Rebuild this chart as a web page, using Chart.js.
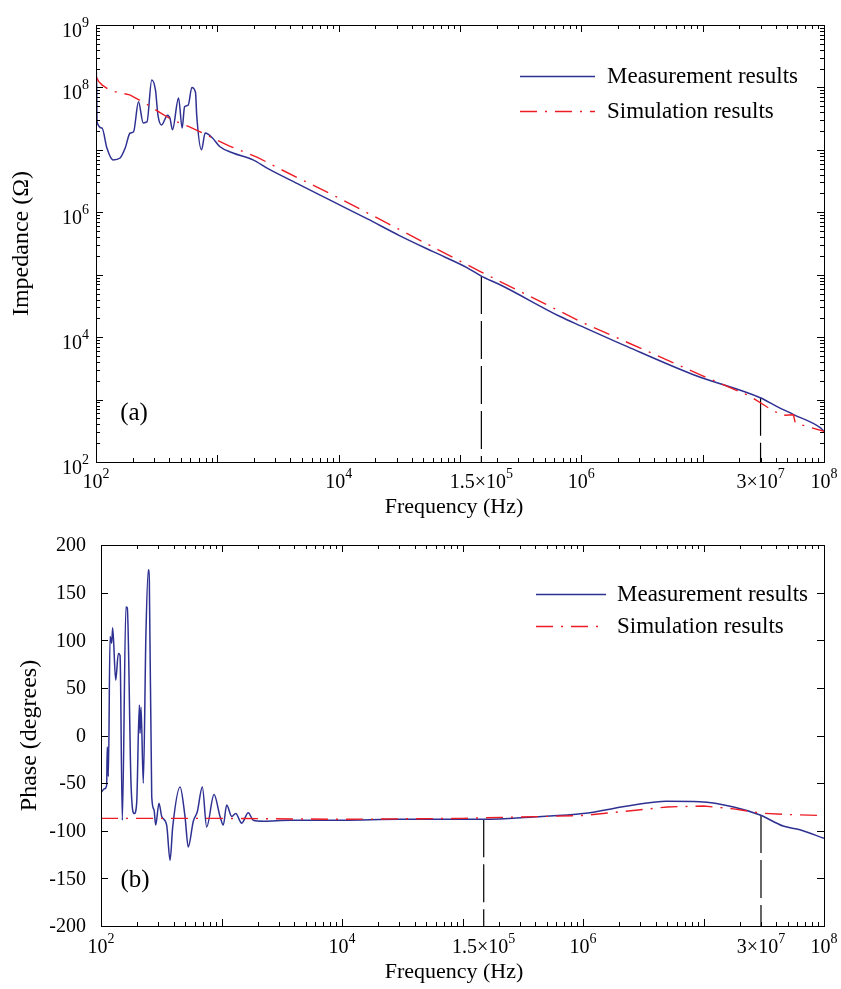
<!DOCTYPE html>
<html lang="en">
<head>
<meta charset="UTF-8" />
<title>Impedance and Phase</title>
<script src="https://cdn.jsdelivr.net/npm/chart.js@4.4.0/dist/chart.umd.min.js"></script>
<style>
  body { margin: 0; background: #fff; }
  canvas { display: block; }
</style>
</head>
<body>
<canvas id="impChart" width="841" height="520"></canvas>
<canvas id="phaseChart" width="841" height="469"></canvas>
<script>
// (a) impedance magnitude
const impMeasFreq = [100, 101, 102, 112, 123, 138, 158, 174, 191, 204, 224, 245, 263, 288, 309, 324, 347, 389, 407, 427,
  479, 513, 537, 575, 617, 661, 676, 741, 794, 912, 1052, 1346, 1968, 2570, 4786, 9000, 1.71e4, 3.2e4, 6.0e4,
  1.15e5, 1.5e5, 2.14e5, 6.68e5, 1e6, 2.37e6, 8.4e6, 2.98e7, 4.07e7, 5.62e7, 9.3e7, 1e8];
const impMeasVal = [1.12e8, 1.78e8, 2.8e7, 2.24e7, 1.07e7, 6.9e6, 7.4e6, 1.07e7, 1.86e7, 1.95e7, 5.9e7, 2.7e7, 2.8e7, 1.32e8, 9.1e7, 3.6e7, 2.5e7, 3.6e7, 3.2e7, 2.1e7,
  6.8e7, 2.24e7, 4.9e7, 5.2e7, 1.0e8, 8.3e7, 3.6e7, 1.0e7, 1.86e7, 1.55e7, 1.12e7, 8.9e6, 6.9e6, 5.1e6, 2.75e6, 1.48e6, 7.9e5, 4.2e5, 2.34e5,
  1.29e5, 9.5e4, 6.9e4, 2.14e4, 1.5e4, 7.1e3, 2.5e3, 1.07e3, 7.8e2, 5.75e2, 3.55e2, 3.1e2];

const impSimFreq = [100, 105, 112, 130, 145, 190, 270, 340, 427, 590, 810, 1260, 2140, 3310, 1e4, 1e5, 1.5e5, 1e6, 1e7,
  2.3e7, 2.6e7, 3.4e7, 4.5e7, 5.6e7, 5.8e7, 1e8];
const impSimVal = [1.5e8, 1.25e8, 1.1e8, 9e7, 8.5e7, 7.6e7, 5.2e7, 3.9e7, 3.0e7, 2.34e7, 1.74e7, 1.15e7, 7.6e6, 4.9e6, 1.7e6, 1.65e5, 1.1e5, 1.75e4, 2.4e3,
  1.2e3, 1.05e3, 7.6e2, 5.6e2, 5.7e2, 4.2e2, 3.1e2];

// (b) phase
const phMeasFreq = [100, 107, 111.4, 112.7, 115.1, 118.9, 122.7, 125, 132.4, 139.3, 143.9, 150.3, 161, 165.2, 177.4, 188.8, 197.7,
  208, 210.9, 214.8, 224.4, 236, 247.2, 251.8, 263.6, 275.4, 284.4, 302.7, 319.2, 350.7, 374.1, 393.6, 452.9, 497.7, 529.7,
  583.4, 629.5, 693.4, 753.4, 867, 972.7, 1035, 1104, 1216, 1312, 1472, 1667, 1837, 2223, 3698, 1e4, 3e4, 1.5e5, 3.85e5,
  1e6, 2.63e6, 4.9e6, 9.3e6, 1.78e7, 2.95e7, 4.57e7, 6.31e7, 1e8];
const phMeasVal = [-60, -56, -52, -12, -43, 104, 97, 113, 58, 86, 84, -89, 135, 134, -50, -82, -71,
  32, 2, 30, -50, 107, 174, 163, -64, -78, -94, -71, -85, -94, -131, -96, -54, -85, -117,
  -90, -80, -54, -96, -62, -85, -94, -73, -85, -82, -92, -81, -89, -90, -89, -89, -88, -88, -85.5,
  -82, -73, -69, -69.5, -75, -83.5, -95, -99, -108];

const phSimFreq = [100, 1e3, 1e4, 1e5, 1e6, 3e6, 5e6, 1e7, 1.78e7, 3e7, 5e7, 1e8];
const phSimVal = [-87, -87, -88, -87, -84, -78, -75, -74, -77, -81.5, -83, -84];

// dashed marker lines
const markerFreqs = [1.5e5, 3e7];
const impMarkerTop = [9.5e4, 1.07e3];
const phMarkerTop = [-88, -83.5];

const xTickLabels = [[1e2, '10', '2'], [1e4, '10', '4'], [1.5e5, '1.5×10', '5'], [1e6, '10', '6'], [3e7, '3×10', '7'], [1e8, '10', '8']];
const impTickLabels = [[1e9, '10', '9'], [1e8, '10', '8'], [1e6, '10', '6'], [1e4, '10', '4'], [1e2, '10', '2']];
const phaseTicks = [200, 150, 100, 50, 0, -50, -100, -150, -200];
const legendNames = ['Measurement results', 'Simulation results'];

const FONT = '"Liberation Serif", "Times New Roman", serif';
const BLUE = '#2e3192';
const RED = '#ed1c24';

function series(fr, vals) { return fr.map((f, i) => ({ x: f, y: vals[i] })); }

function lineSet(data, color, dash, width, order) {
  return { data, borderColor: color, borderWidth: width, borderDash: dash, pointRadius: 0, tension: 0, fill: false, order };
}

function measSet(data) {
  return Object.assign(lineSet(data, BLUE, [], 1.5, 2), { cubicInterpolationMode: 'monotone' });
}

function markerSets(tops, bottom) {
  return markerFreqs.map((f, i) => lineSet([{ x: f, y: tops[i] }, { x: f, y: bottom }], '#000', [38, 7], 1.2, 3));
}

function logTicks(min, max) {
  const out = [];
  for (let d = Math.round(Math.log10(min)); d < Math.round(Math.log10(max)); d++)
    for (let m = 1; m < 10; m++) out.push([m * Math.pow(10, d), m === 1]);
  out.push([max, true]);
  return out;
}

function pow10(ctx, base, exp, x, y, align) {
  ctx.font = '20px ' + FONT;
  const bw = ctx.measureText(base).width;
  ctx.font = '14px ' + FONT;
  const ew = ctx.measureText(exp).width;
  const left = align === 'center' ? x - (bw + ew) / 2 : x - bw - ew;
  ctx.textAlign = 'left';
  ctx.textBaseline = 'alphabetic';
  ctx.font = '20px ' + FONT;
  ctx.fillText(base, left, y);
  ctx.font = '14px ' + FONT;
  ctx.fillText(exp, left + bw, y - 10);
}

const frame = {
  id: 'frame',
  afterDatasetsDraw(chart, args, o) {
    const { ctx, chartArea: a, scales: { x, y } } = chart;
    ctx.save();
    ctx.strokeStyle = '#000';
    ctx.lineWidth = 1;
    ctx.setLineDash([]);
    ctx.strokeRect(a.left + 0.5, a.top + 0.5, a.right - a.left, a.bottom - a.top);

    // inward ticks
    ctx.beginPath();
    logTicks(x.min, x.max).forEach(([v, major]) => {
      const px = Math.round(x.getPixelForValue(v)) + 0.5;
      const len = major ? 7 : 4;
      ctx.moveTo(px, a.bottom); ctx.lineTo(px, a.bottom - len);
      ctx.moveTo(px, a.top); ctx.lineTo(px, a.top + len);
    });
    const yt = y.type === 'logarithmic' ? logTicks(y.min, y.max) : phaseTicks.map(v => [v, true]);
    yt.forEach(([v, major]) => {
      const py = Math.round(y.getPixelForValue(v)) + 0.5;
      const len = major ? 7 : 4;
      ctx.moveTo(a.left, py); ctx.lineTo(a.left + len, py);
      ctx.moveTo(a.right, py); ctx.lineTo(a.right - len, py);
    });
    ctx.stroke();

    // tick labels
    ctx.fillStyle = '#000';
    xTickLabels.forEach(([v, b, e]) => pow10(ctx, b, e, x.getPixelForValue(v), a.bottom + o.xLabelDy, 'center'));
    if (y.type === 'logarithmic') {
      impTickLabels.forEach(([v, b, e]) => pow10(ctx, b, e, a.left - 7, y.getPixelForValue(v) + 12, 'right'));
    } else {
      ctx.font = '20px ' + FONT;
      ctx.textAlign = 'right';
      ctx.textBaseline = 'middle';
      phaseTicks.forEach(v => ctx.fillText(String(v), a.left - 15, y.getPixelForValue(v) + 1));
    }

    // titles
    ctx.textAlign = 'center';
    ctx.textBaseline = 'middle';
    ctx.font = '22px ' + FONT;
    ctx.fillText('Frequency (Hz)', o.xTitle[0], o.xTitle[1]);
    ctx.font = '25px ' + FONT;
    ctx.fillText(o.panel, o.panelPos[0], o.panelPos[1]);
    ctx.save();
    ctx.font = '24px ' + FONT;
    ctx.translate(o.yTitle[0], (a.top + a.bottom) / 2);
    ctx.rotate(-Math.PI / 2);
    ctx.fillText(o.yTitleText, 0, 0);
    ctx.restore();

    // legend
    const [lx0, lx1, tx, ly, gap] = o.legend;
    ctx.font = '23px ' + FONT;
    [0, 1].forEach(i => {
      const ds = chart.data.datasets[i];
      const yy = ly + i * gap + 0.5;
      ctx.strokeStyle = ds.borderColor;
      ctx.lineWidth = ds.borderWidth;
      ctx.setLineDash(ds.borderDash || []);
      ctx.beginPath();
      ctx.moveTo(lx0, yy); ctx.lineTo(lx1, yy);
      ctx.stroke();
      ctx.textAlign = 'left';
      ctx.fillText(legendNames[i], tx, yy);
    });
    ctx.restore();
  }
};

function makeChart(id, datasets, yScale, axisW, axisH, plug) {
  return new Chart(document.getElementById(id), {
    type: 'line',
    data: { datasets },
    options: {
      responsive: false,
      animation: false,
      layout: { padding: { left: 0, top: 25, right: 17, bottom: 0 } },
      scales: {
        x: {
          type: 'logarithmic', min: 1e2, max: 1e8,
          grid: { display: false }, border: { display: false }, ticks: { display: false },
          afterFit: s => { s.height = axisH; }
        },
        y: Object.assign({
          grid: { display: false }, border: { display: false }, ticks: { display: false },
          afterFit: s => { s.width = axisW; }
        }, yScale)
      },
      plugins: { legend: { display: false }, tooltip: { enabled: false }, frame: plug }
    },
    plugins: [frame]
  });
}

makeChart('impChart', [
  measSet(series(impMeasFreq, impMeasVal)),
  lineSet(series(impSimFreq, impSimVal), RED, [17, 8, 2, 8], 1.4, 1),
  ...markerSets(impMarkerTop, 1e2)
], { type: 'logarithmic', min: 1e2, max: 1e9 }, 96, 58, {
  xLabelDy: 26, xTitle: [454, 507], yTitle: [22], yTitleText: 'Impedance (Ω)',
  panel: '(a)', panelPos: [134, 413], legend: [520, 595, 607, 76, 35]
});

makeChart('phaseChart', [
  measSet(series(phMeasFreq, phMeasVal)),
  lineSet(series(phSimFreq, phSimVal), RED, [17, 8, 2, 8], 1.4, 1),
  ...markerSets(phMarkerTop, -200)
], { type: 'linear', min: -200, max: 200 }, 101, 63, {
  xLabelDy: 27, xTitle: [454, 452], yTitle: [30], yTitleText: 'Phase (degrees)',
  panel: '(b)', panelPos: [135, 360], legend: [536, 606, 617, 74, 32]
});
</script>
</body>
</html>
